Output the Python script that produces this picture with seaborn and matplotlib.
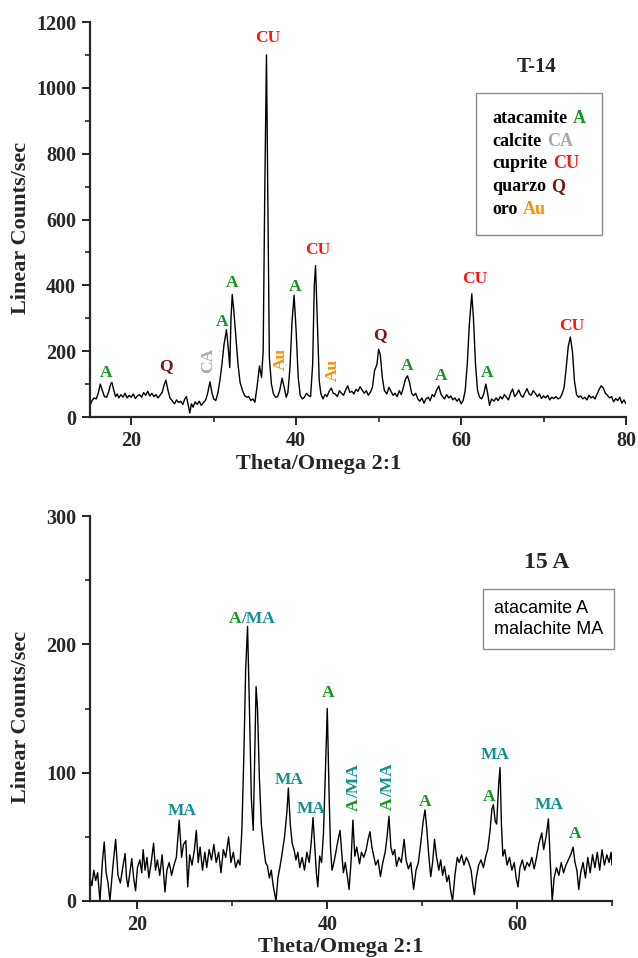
import numpy as np
import pandas as pd
import matplotlib
matplotlib.use("Agg")
import matplotlib.pyplot as plt
from matplotlib.ticker import MultipleLocator
from matplotlib.offsetbox import TextArea, HPacker, VPacker, AnchoredOffsetbox
import seaborn as sns

# --- scan T-14 (2theta, counts)
t14_scan = [
    (15.0, 35), (15.25, 50), (15.5, 58), (15.75, 55), (16.0, 72), (16.25, 100), (16.5, 80), (16.75, 62),
    (17.0, 60), (17.25, 75), (17.5, 100), (17.65, 105), (17.9, 80), (18.1, 62), (18.3, 70), (18.5, 58),
    (18.75, 68), (19.0, 60), (19.25, 72), (19.5, 58), (19.75, 66), (20.0, 60), (20.25, 70), (20.5, 56),
    (20.75, 64), (21.0, 68), (21.25, 60), (21.5, 74), (21.75, 66), (22.0, 78), (22.25, 64), (22.5, 72),
    (22.75, 62), (23.0, 68), (23.25, 58), (23.5, 66), (23.75, 75), (24.0, 98), (24.2, 112), (24.45, 82),
    (24.7, 58), (25.0, 48), (25.25, 40), (25.5, 52), (25.75, 44), (26.0, 48), (26.25, 38), (26.5, 55),
    (26.7, 62), (26.9, 38), (27.1, 12), (27.3, 40), (27.5, 30), (27.75, 46), (28.0, 38), (28.25, 48),
    (28.5, 35), (28.75, 44), (29.0, 50), (29.25, 70), (29.55, 107), (29.8, 72), (30.0, 55), (30.25, 50),
    (30.5, 72), (30.75, 110), (31.0, 160), (31.25, 220), (31.55, 265), (31.8, 200), (31.95, 150), (32.1, 300),
    (32.25, 372), (32.45, 320), (32.7, 240), (32.95, 160), (33.2, 105), (33.5, 80), (33.75, 65), (34.0, 60),
    (34.25, 62), (34.5, 50), (34.75, 55), (35.0, 45), (35.25, 90), (35.55, 155), (35.8, 120), (36.0, 200),
    (36.2, 700), (36.4, 1100), (36.55, 700), (36.75, 180), (37.0, 100), (37.25, 70), (37.5, 60), (37.75, 62),
    (38.0, 80), (38.3, 118), (38.55, 90), (38.8, 60), (39.0, 75), (39.25, 150), (39.5, 290), (39.75, 370),
    (40.0, 260), (40.25, 120), (40.5, 65), (40.75, 55), (41.0, 60), (41.25, 72), (41.5, 65), (41.75, 62),
    (42.0, 160), (42.2, 400), (42.35, 460), (42.55, 300), (42.8, 110), (43.0, 70), (43.25, 55), (43.5, 68),
    (43.75, 62), (44.0, 78), (44.25, 88), (44.5, 72), (44.75, 70), (45.0, 62), (45.25, 80), (45.5, 72),
    (45.75, 66), (46.0, 82), (46.25, 95), (46.5, 75), (46.75, 78), (47.0, 70), (47.25, 84), (47.5, 78),
    (47.75, 92), (48.0, 82), (48.25, 72), (48.5, 80), (48.75, 66), (49.0, 75), (49.25, 90), (49.5, 140),
    (49.8, 160), (50.0, 206), (50.2, 190), (50.45, 120), (50.7, 80), (51.0, 70), (51.25, 90), (51.5, 78),
    (51.75, 66), (52.0, 72), (52.25, 62), (52.5, 80), (52.75, 68), (53.0, 90), (53.25, 115), (53.5, 125),
    (53.75, 105), (54.0, 72), (54.25, 65), (54.5, 72), (54.75, 55), (55.0, 48), (55.25, 58), (55.5, 42),
    (55.75, 55), (56.0, 60), (56.25, 50), (56.5, 68), (56.75, 62), (57.0, 80), (57.3, 94), (57.55, 70),
    (57.75, 62), (58.0, 55), (58.25, 68), (58.5, 58), (58.75, 64), (59.0, 52), (59.25, 58), (59.5, 48),
    (59.75, 56), (60.0, 40), (60.25, 50), (60.5, 80), (60.75, 160), (61.0, 280), (61.3, 374), (61.5, 300),
    (61.75, 160), (62.0, 80), (62.25, 60), (62.5, 55), (62.75, 70), (63.0, 100), (63.2, 75), (63.45, 35),
    (63.7, 55), (64.0, 48), (64.25, 58), (64.5, 50), (64.75, 62), (65.0, 55), (65.25, 68), (65.5, 60),
    (65.75, 52), (66.0, 72), (66.25, 85), (66.5, 62), (66.75, 70), (67.0, 82), (67.25, 66), (67.5, 60),
    (67.75, 74), (68.0, 86), (68.25, 70), (68.5, 66), (68.75, 80), (69.0, 72), (69.25, 62), (69.5, 70),
    (69.75, 56), (70.0, 64), (70.25, 58), (70.5, 66), (70.75, 52), (71.0, 60), (71.25, 56), (71.5, 62),
    (71.75, 55), (72.0, 58), (72.25, 70), (72.5, 90), (72.75, 150), (73.0, 215), (73.25, 243), (73.5, 200),
    (73.75, 110), (74.0, 68), (74.25, 60), (74.5, 64), (74.75, 55), (75.0, 60), (75.25, 52), (75.5, 66),
    (75.75, 58), (76.0, 62), (76.25, 55), (76.5, 70), (76.75, 84), (77.0, 95), (77.25, 88), (77.5, 72),
    (77.75, 66), (78.0, 58), (78.25, 62), (78.5, 46), (78.75, 56), (79.0, 50), (79.25, 60), (79.5, 42),
    (79.75, 52), (80.0, 40),
]

# --- scan 15 A
a15_scan = [
    (15.0, 18), (15.2, 12), (15.4, 24), (15.6, 16), (15.8, 22), (16.05, 0), (16.3, 30), (16.5, 46),
    (16.7, 22), (16.9, 14), (17.1, 0), (17.4, 26), (17.7, 48), (17.95, 20), (18.2, 14), (18.45, 26),
    (18.7, 37), (18.85, 18), (19.0, 11), (19.2, 22), (19.4, 33), (19.6, 18), (19.8, 8), (20.0, 26),
    (20.25, 32), (20.45, 22), (20.6, 40), (20.8, 24), (21.0, 34), (21.2, 18), (21.45, 30), (21.7, 45),
    (21.9, 24), (22.1, 32), (22.35, 20), (22.6, 36), (22.9, 7), (23.1, 24), (23.35, 30), (23.6, 20),
    (23.85, 28), (24.1, 34), (24.4, 63), (24.65, 34), (24.85, 44), (25.1, 47), (25.3, 11), (25.5, 36),
    (25.75, 28), (26.0, 40), (26.2, 55), (26.4, 30), (26.6, 42), (26.85, 24), (27.1, 38), (27.3, 26),
    (27.55, 40), (27.8, 32), (28.05, 44), (28.3, 30), (28.55, 38), (28.8, 22), (29.05, 40), (29.3, 34),
    (29.6, 50), (29.85, 30), (30.1, 38), (30.35, 26), (30.6, 32), (30.8, 28), (31.0, 55), (31.2, 110),
    (31.4, 180), (31.6, 214), (31.8, 150), (32.0, 80), (32.2, 55), (32.35, 110), (32.5, 167), (32.65, 150),
    (32.85, 95), (33.05, 60), (33.25, 45), (33.5, 30), (33.7, 27), (33.9, 18), (34.1, 24), (34.3, 12),
    (34.6, 0), (34.8, 18), (35.0, 26), (35.2, 35), (35.5, 50), (35.75, 70), (35.9, 88), (36.1, 60),
    (36.3, 45), (36.5, 40), (36.7, 32), (36.9, 38), (37.1, 26), (37.35, 34), (37.6, 24), (37.85, 38),
    (38.1, 30), (38.3, 45), (38.5, 65), (38.7, 40), (38.85, 22), (39.0, 11), (39.2, 35), (39.4, 30),
    (39.6, 53), (39.8, 100), (40.0, 150), (40.2, 80), (40.35, 40), (40.5, 24), (40.7, 30), (40.95, 40),
    (41.2, 50), (41.35, 55), (41.55, 35), (41.7, 22), (41.9, 30), (42.1, 20), (42.3, 9), (42.5, 30),
    (42.7, 63), (42.9, 35), (43.1, 42), (43.4, 29), (43.6, 38), (43.85, 34), (44.1, 40), (44.3, 48),
    (44.5, 54), (44.7, 42), (44.9, 35), (45.1, 28), (45.35, 32), (45.6, 19), (45.85, 30), (46.1, 38),
    (46.3, 50), (46.5, 66), (46.7, 42), (46.9, 36), (47.1, 40), (47.3, 27), (47.55, 34), (47.8, 30),
    (48.1, 48), (48.3, 32), (48.55, 25), (48.8, 30), (49.1, 9), (49.35, 24), (49.6, 30), (49.85, 45),
    (50.1, 62), (50.3, 71), (50.5, 55), (50.7, 35), (50.9, 19), (51.1, 30), (51.3, 48), (51.5, 35),
    (51.75, 24), (51.95, 32), (52.15, 20), (52.35, 27), (52.6, 15), (52.8, 20), (53.0, 8), (53.2, 0),
    (53.45, 20), (53.7, 34), (53.9, 30), (54.15, 36), (54.4, 28), (54.65, 34), (54.9, 30), (55.15, 24),
    (55.35, 12), (55.5, 5), (55.7, 18), (55.95, 28), (56.2, 32), (56.45, 26), (56.7, 35), (56.9, 40),
    (57.15, 55), (57.35, 72), (57.5, 75), (57.7, 62), (57.85, 60), (58.05, 90), (58.2, 104), (58.35, 60),
    (58.5, 35), (58.7, 40), (58.95, 28), (59.2, 34), (59.45, 24), (59.7, 30), (59.9, 18), (60.1, 11),
    (60.3, 26), (60.55, 32), (60.8, 24), (61.05, 30), (61.3, 27), (61.55, 34), (61.8, 25), (62.05, 34),
    (62.3, 45), (62.6, 53), (62.8, 40), (63.05, 50), (63.3, 64), (63.5, 30), (63.7, 0), (63.9, 18),
    (64.15, 26), (64.4, 20), (64.65, 30), (64.9, 22), (65.15, 28), (65.4, 32), (65.65, 36), (65.9, 42),
    (66.1, 30), (66.3, 24), (66.5, 9), (66.7, 22), (66.95, 30), (67.2, 18), (67.45, 34), (67.7, 22),
    (67.95, 36), (68.2, 26), (68.45, 38), (68.7, 24), (68.95, 40), (69.2, 28), (69.45, 36), (69.7, 30),
    (69.9, 38), (70.0, 28),
]

# phase labels on the peaks
t14_labels = ["A", "Q", "CA", "A", "A", "CU", "Au", "A", "CU", "Au", "Q", "A", "A", "CU", "A", "CU"]
t14_label_x = [16.95, 24.2, 29.35, 31.0, 32.25, 36.6, 38.2, 39.9, 42.6, 44.5, 50.1, 53.5, 57.6, 61.65, 63.1, 73.45]
t14_label_y = [134, 155, 173, 289, 407, 1152, 176, 395, 508, 143, 249, 155, 125, 419, 134, 277]

a15_labels = ["MA", "A/MA", "MA", "MA", "A", "A/MA", "A/MA", "A", "A", "MA", "MA", "A"]
a15_label_x = [24.7, 30.9, 36.0, 38.3, 40.1, 42.8, 46.4, 50.35, 57.1, 57.65, 63.4, 66.1]
a15_label_y = [70, 220, 94, 72, 162, 80, 81, 77, 81, 114, 75, 52]
a15_label_rot = [0, 0, 0, 0, 0, 90, 90, 0, 0, 0, 0, 0]

t14_legend = [("atacamite", "A"), ("calcite", "CA"), ("cuprite", "CU"), ("quarzo", "Q"), ("oro", "Au")]
a15_legend = ["atacamite A", "malachite MA"]

GREEN = "#14961e"
TEAL = "#138f8f"
phase_colors = {"A": GREEN, "CA": "#a8a8a8", "CU": "#ff1414", "Q": "#7f1212", "Au": "#ff9000", "MA": TEAL}
rotated = {"CA", "Au"}

sns.set_style("ticks")
plt.rcParams["font.family"] = ["Liberation Serif", "DejaVu Serif"]
plt.rcParams["font.weight"] = "bold"

fig = plt.figure(figsize=(6.38, 9.58), dpi=100)
ax1 = fig.add_axes([90 / 638, 1 - 417 / 958, 536 / 638, 395 / 958])
ax2 = fig.add_axes([90 / 638, 1 - 901 / 958, 522 / 638, 385 / 958])

for ax, scan in ((ax1, t14_scan), (ax2, a15_scan)):
    df = pd.DataFrame(scan, columns=["two_theta", "counts"])
    sns.lineplot(data=df, x="two_theta", y="counts", ax=ax, color="black",
                 linewidth=1.0, estimator=None, sort=False)
    sns.despine(ax=ax)
    for s in ("left", "bottom"):
        ax.spines[s].set_linewidth(1.6)
    ax.tick_params(which="major", length=6, width=1.4, labelsize=14.5, pad=4)
    ax.tick_params(which="minor", length=3.5, width=1.2)
    ax.xaxis.set_major_locator(MultipleLocator(20))
    ax.xaxis.set_minor_locator(MultipleLocator(10))
    for lab in ax.get_xticklabels() + ax.get_yticklabels():
        lab.set_fontweight("bold")
    ax.set_xlabel("Theta/Omega 2:1", fontsize=16, fontweight="bold")
    ax.set_ylabel("Linear Counts/sec", fontsize=16, fontweight="bold")

ax1.set_xlim(15, 80)
ax1.set_ylim(0, 1200)
ax1.yaxis.set_major_locator(MultipleLocator(200))
ax1.yaxis.set_minor_locator(MultipleLocator(100))
ax1.xaxis.set_label_coords(0.427, -0.094)
ax1.yaxis.set_label_coords(-0.110, 0.478)

ax2.set_xlim(15, 70)
ax2.set_ylim(0, 300)
ax2.yaxis.set_major_locator(MultipleLocator(100))
ax2.yaxis.set_minor_locator(MultipleLocator(50))
ax2.xaxis.set_label_coords(0.48, -0.093)
ax2.yaxis.set_label_coords(-0.113, 0.478)

for lab, x, y in zip(t14_labels, t14_label_x, t14_label_y):
    ax1.text(x, y, lab, color=phase_colors[lab], fontsize=12.5, fontweight="bold",
             ha="center", va="center", rotation=90 if lab in rotated else 0)

for lab, x, y, rot in zip(a15_labels, a15_label_x, a15_label_y, a15_label_rot):
    if lab == "A/MA":
        ax2.text(x, y, "A", color=GREEN, fontsize=12.5, fontweight="bold", ha="right",
                 va="center", rotation=rot, rotation_mode="anchor")
        ax2.text(x, y, "/MA", color=TEAL, fontsize=12.5, fontweight="bold", ha="left",
                 va="center", rotation=rot, rotation_mode="anchor")
    else:
        ax2.text(x, y, lab, color=phase_colors[lab], fontsize=12.5, fontweight="bold",
                 ha="center", va="center")

ax1.text(69.1, 1064, "T-14", fontsize=15, fontweight="bold", ha="center", va="center")
ax2.text(63.15, 264, "15 A", fontsize=17, fontweight="bold", ha="center", va="center")


def add_box(ax, rows, anchor, pad, sep):
    box = VPacker(children=rows, align="left", pad=0, sep=sep)
    anch = AnchoredOffsetbox(loc="upper left", child=box, pad=pad, borderpad=0, frameon=True,
                             bbox_to_anchor=anchor, bbox_transform=fig.transFigure)
    anch.patch.set_edgecolor("#8c8c8c")
    anch.patch.set_linewidth(1.0)
    ax.add_artist(anch)


rows1 = []
for name, code in t14_legend:
    rows1.append(HPacker(children=[
        TextArea(name, textprops=dict(color="black", fontsize=13, fontweight="bold")),
        TextArea(code, textprops=dict(color=phase_colors[code], fontsize=13, fontweight="bold")),
    ], align="baseline", pad=0, sep=3.5))
add_box(ax1, rows1, (476 / 638, 1 - 93 / 958), 1.2, 4.2)

rows2 = [TextArea(t, textprops=dict(color="black", fontsize=13, fontweight="normal",
                                    family=["Liberation Sans", "DejaVu Sans"])) for t in a15_legend]
add_box(ax2, rows2, (483 / 638, 1 - 589 / 958), 0.8, 2.5)

fig.savefig("out.png", dpi=100)
plt.close(fig)
